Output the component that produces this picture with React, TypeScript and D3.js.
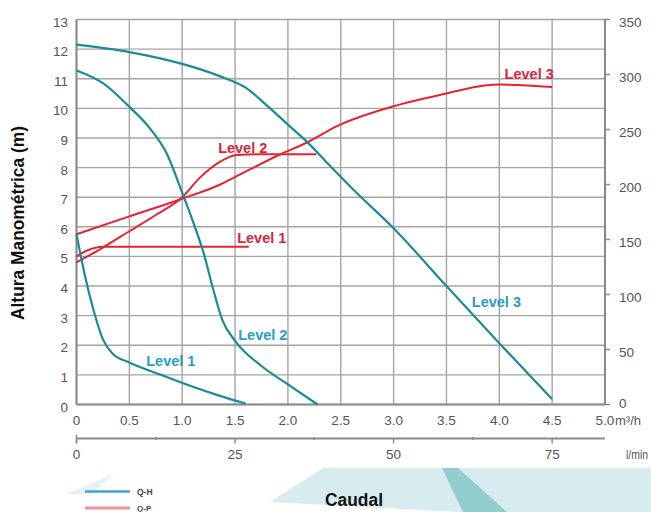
import React from 'react';
import * as d3 from 'd3';

// ---------- data ----------
const flowTicks = [0, 0.5, 1.0, 1.5, 2.0, 2.5, 3.0, 3.5, 4.0, 4.5, 5.0];
const flowTickLabels = ['0', '0.5', '1.0', '1.5', '2.0', '2.5', '3.0', '3.5', '4.0', '4.5', '5.0'];
const headTicks = [0, 1, 2, 3, 4, 5, 6, 7, 8, 9, 10, 11, 12, 13];
const powerTicks = [0, 50, 100, 150, 200, 250, 300, 350];
const lpmTicks = [0, 25, 50, 75];
const lpmMinorTicks = [12.5, 37.5, 62.5];

// Q-H curves: [flow m3/h, head m]
const qhLevel1: [number, number][] = [[0, 5.75], [0.08, 4.35], [0.16, 3.2], [0.25, 2.2], [0.34, 1.72], [0.5, 1.42], [0.8, 1.0], [1.1, 0.6], [1.35, 0.3], [1.6, 0.03]];
const qhLevel2: [number, number][] = [[0, 11.28], [0.25, 10.85], [0.5, 10.05], [0.7, 9.3], [0.85, 8.5], [1.0, 7.15], [1.1, 6.2], [1.2, 5.15], [1.3, 3.8], [1.38, 2.85], [1.5, 2.15], [1.75, 1.3], [2.0, 0.68], [2.28, 0.0]];
const qhLevel3: [number, number][] = [[0, 12.15], [0.5, 11.9], [1.0, 11.5], [1.36, 11.08], [1.6, 10.7], [1.8, 10.1], [2.0, 9.45], [2.2, 8.8], [2.4, 8.05], [2.62, 7.25], [3.0, 5.95], [3.5, 4.0], [4.0, 2.07], [4.5, 0.18]];

// Q-P curves: [flow m3/h, power W]
const qpLevel1: [number, number][] = [[0, 134.6], [0.1, 140], [0.25, 143.5], [1.63, 143.5]];
const qpLevel2: [number, number][] = [[0, 129.2], [0.25, 142.7], [0.5, 157.5], [0.75, 172.3], [1.0, 188.5], [1.17, 206.5], [1.36, 220.8], [1.5, 226.7], [1.7, 227.5], [2.27, 227.5]];
const qpLevel3: [number, number][] = [[0, 154.8], [0.5, 171], [1.0, 187.1], [1.36, 200], [1.5, 206.8], [1.93, 227.5], [2.2, 239.1], [2.46, 252.8], [3.0, 271.1], [3.5, 282.7], [3.88, 290.2], [4.0, 290.8], [4.5, 288.6]];

// labels: [text, flow, head]
const qhLabels: [string, number, number][] = [['Level 1', 0.66, 1.3], ['Level 2', 1.53, 2.18], ['Level 3', 3.74, 3.28]];
const qpLabels: [string, number, number][] = [['Level 1', 1.52, 5.46], ['Level 2', 1.34, 8.5], ['Level 3', 4.05, 11.0]];

// ---------- styles ----------
const TEAL = '#1a8c95';
const RED = '#e42432';
const TEAL_LABEL = '#2b9cc2';
const RED_LABEL = '#d8253d';
const GRID = '#a4a4a4';
const AXIS = '#8a8a8a';
const TICK_TXT = '#555';
const FONT = '"Liberation Sans", Arial, sans-serif';

export default function App() {
  const W = 651, H = 512;
  const x = d3.scaleLinear().domain([0, 5]).range([76.5, 605]);
  const yL = d3.scaleLinear().domain([0, 13]).range([404.5, 19.5]);
  const yR = d3.scaleLinear().domain([0, 350]).range([404.5, 19.5]);
  const xLpm = d3.scaleLinear().domain([0, 5 * 1000 / 60]).range([76.5, 605]);

  const lineH = d3.line<[number, number]>().x(d => x(d[0])).y(d => yL(d[1])).curve(d3.curveMonotoneX);
  const lineP = d3.line<[number, number]>().x(d => x(d[0])).y(d => yR(d[1])).curve(d3.curveMonotoneX);

  const lpmY = 438.5;

  return (
    <svg width={W} height={H} style={{ position: 'absolute', left: 0, top: 0, background: '#fff' }} fontFamily={FONT}>
      <rect x={0} y={0} width={W} height={H} fill="#fff" />
      {/* decorative shapes */}
      <polygon points="270,502 323,468 651,468 651,512 460,512" fill="#d6ecee" />
      <polygon points="442,468 458,468 507,512 463,512" fill="#92cdd0" />
      <polygon points="66,494 115,473 92,494" fill="#e4f3f5" />

      {/* grid */}
      {flowTicks.map((t, i) => (
        <line key={'vg' + i} x1={x(t)} x2={x(t)} y1={yL(13)} y2={yL(0)} stroke={GRID} strokeWidth={1.4} />
      ))}
      {headTicks.map((t, i) => (
        <line key={'hg' + i} x1={x(0)} x2={x(5)} y1={yL(t)} y2={yL(t)} stroke={GRID} strokeWidth={1.4} />
      ))}
      {/* axes */}
      <line x1={x(0)} x2={x(0)} y1={yL(13)} y2={yL(0)} stroke={AXIS} strokeWidth={2} />
      <line x1={x(0)} x2={x(5)} y1={yL(0)} y2={yL(0)} stroke={AXIS} strokeWidth={2} />
      <line x1={x(5)} x2={x(5)} y1={yR(350)} y2={yR(0)} stroke={AXIS} strokeWidth={2} />
      {powerTicks.map((t, i) => (
        <line key={'rt' + i} x1={x(5)} x2={x(5) + 5} y1={yR(t)} y2={yR(t)} stroke={AXIS} strokeWidth={1.5} />
      ))}

      {/* left tick labels */}
      {headTicks.map((t, i) => (
        <text key={'yl' + i} x={68} y={yL(t) + 7} textAnchor="end" fontSize={13.5} fill={TICK_TXT}>{t}</text>
      ))}
      {/* right tick labels */}
      {powerTicks.map((t, i) => (
        <text key={'yr' + i} x={619} y={yR(t) + (t === 0 ? 3 : 7)} textAnchor="start" fontSize={13.5} fill={TICK_TXT}>{t}</text>
      ))}
      {/* bottom flow labels */}
      {flowTicks.map((t, i) => (
        <text key={'xl' + i} x={x(t)} y={425} textAnchor="middle" fontSize={13.5} fill={TICK_TXT}>{flowTickLabels[i]}</text>
      ))}
      <text x={615} y={425} fontSize={13} fill={TICK_TXT}>m³/h</text>

      {/* l/min axis */}
      <line x1={xLpm(0)} x2={x(5)} y1={lpmY} y2={lpmY} stroke={AXIS} strokeWidth={1.8} />
      <line x1={xLpm(0)} x2={xLpm(0)} y1={lpmY - 4} y2={lpmY + 5} stroke={AXIS} strokeWidth={1.5} />
      {lpmTicks.map((t, i) => (
        <line key={'lt' + i} x1={xLpm(t)} x2={xLpm(t)} y1={lpmY} y2={lpmY + 5} stroke={AXIS} strokeWidth={1.5} />
      ))}
      {lpmMinorTicks.map((t, i) => (
        <line key={'lm' + i} x1={xLpm(t)} x2={xLpm(t)} y1={lpmY - 1.5} y2={lpmY + 1.5} stroke={AXIS} strokeWidth={1.5} />
      ))}
      {lpmTicks.map((t, i) => (
        <text key={'ll' + i} x={xLpm(t)} y={459} textAnchor="middle" fontSize={13.5} fill={TICK_TXT}>{t}</text>
      ))}
      <text x={626} y={459} fontSize={12} fill={TICK_TXT} textLength={22} lengthAdjust="spacingAndGlyphs">l/min</text>

      {/* curves */}
      {[qpLevel1, qpLevel2, qpLevel3].map((d, i) => (
        <path key={'qp' + i} d={lineP(d) || ''} fill="none" stroke={RED} strokeWidth={2} />
      ))}
      {[qhLevel1, qhLevel2, qhLevel3].map((d, i) => (
        <path key={'qh' + i} d={lineH(d) || ''} fill="none" stroke={TEAL} strokeWidth={2.2} />
      ))}

      {/* curve labels */}
      {qhLabels.map(([s, fx, fy], i) => (
        <text key={'qhl' + i} x={x(fx)} y={yL(fy)} fontSize={14.5} fontWeight="bold" fill={TEAL_LABEL}>{s}</text>
      ))}
      {qpLabels.map(([s, fx, fy], i) => (
        <text key={'qpl' + i} x={x(fx)} y={yL(fy)} fontSize={14.5} fontWeight="bold" fill={RED_LABEL}>{s}</text>
      ))}

      {/* y title */}
      <text transform="translate(24,223) rotate(-90)" textAnchor="middle" fontSize={17.5} fontWeight="bold" fill="#111"
        textLength={194} lengthAdjust="spacingAndGlyphs">Altura Manométrica (m)</text>

      {/* x title */}
      <text x={325} y={506} fontSize={18} fontWeight="bold" fill="#111" textLength={58} lengthAdjust="spacingAndGlyphs">Caudal</text>

      {/* legend */}
      <line x1={85} x2={130} y1={491.5} y2={491.5} stroke="#3aa8c8" strokeWidth={2.5} />
      <text x={137} y={495} fontSize={8.5} fontWeight="bold" fill="#444">Q-H</text>
      <line x1={85} x2={130} y1={508} y2={508} stroke="#f3909a" strokeWidth={3} />
      <text x={137} y={510.5} fontSize={8} fontWeight="bold" fill="#444">Q-P</text>
    </svg>
  );
}
